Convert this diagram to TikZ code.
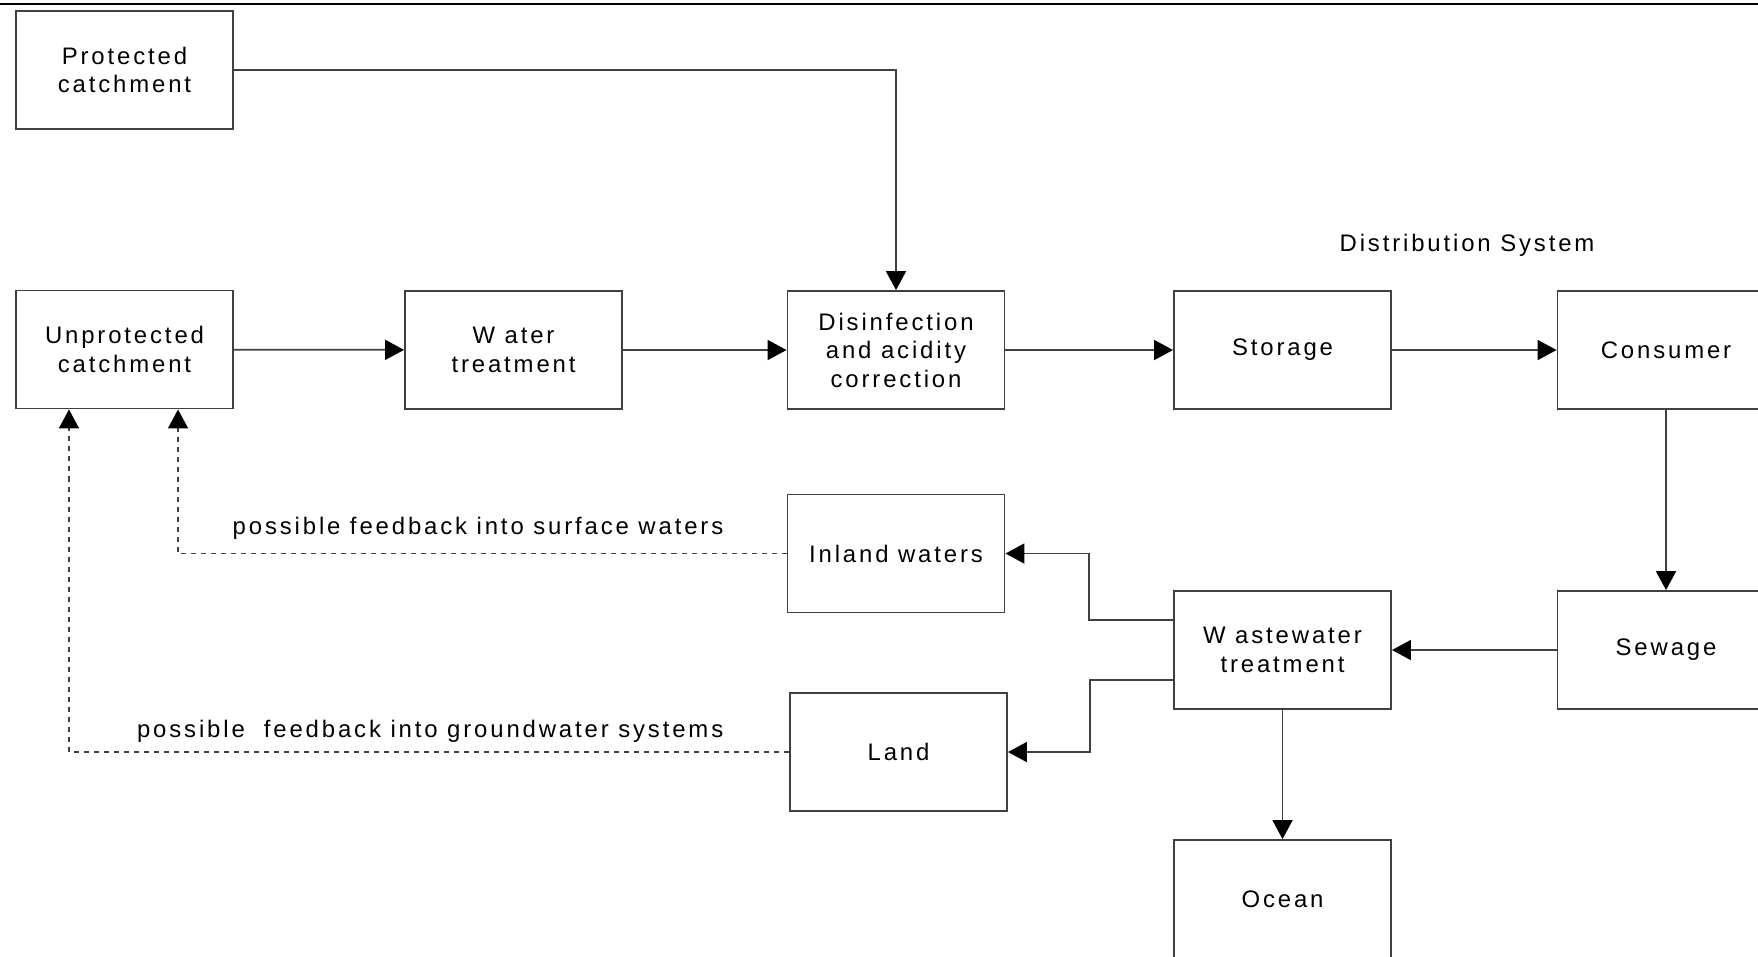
\documentclass[tikz,border=0pt]{standalone}
\usepackage{fontspec}
\setmainfont{Liberation Sans}[LetterSpace=12]
\usetikzlibrary{positioning}
\usetikzlibrary{arrows.meta}
\usetikzlibrary{calc}

\begin{document}
\begin{tikzpicture}[x=0.01cm,y=-0.01cm,
  every node/.style={font=\fontsize{6.8}{8.1}\selectfont},
  box/.style={draw=black!75,line width=0.5pt,minimum width=2.17cm,minimum height=1.18cm,align=center,inner sep=0pt},
  flow/.style={draw=black!75,line width=0.5pt,-{Triangle[length=0.19cm,width=0.2cm,black]}},
  back/.style={flow,dash pattern=on 0.05cm off 0.05cm}]

\useasboundingbox (0,0) rectangle (1758,956);

\draw[line width=0.8pt] (0,4)--(1758,4);

% upper row
\node[box] (prot) at (124.5,70) {Protected\\catchment};
\node[box] (unprot) at (124.5,349.5) {Unprotected\\catchment};
\node[box] (wtreat) at (513.5,350) {W ater\\treatment};
\node[box] (disinf) at (896,350) {Disinfection\\and acidity\\correction};
\node[box] (storage) at (1282.5,350) {Storage};
\node[box] (consumer) at (1666,350) {Consumer};

\node (distlbl) at (1467,245) {Distribution System};

% lower part
\node[box] (sewage) at (1666,650) {Sewage};
\node[box] (wwt) at (1282.5,650) {W astewater\\treatment};
\node[box] (inland) at (896,553.5) {Inland waters};
\node[box] (land) at (898.5,752) {Land};
\node[box] (ocean) at (1282.5,899) {Ocean};

\draw[flow] (prot) -| (disinf);
\draw[flow] (unprot) -- (wtreat);
\draw[flow] (wtreat) -- (disinf);
\draw[flow] (disinf) -- (storage);
\draw[flow] (storage) -- (consumer);
\draw[flow] (consumer) -- (sewage);
\draw[flow] (sewage) -- (wwt);
\draw[flow] ($(wwt.north west)!.25!(wwt.south west)$) -- ++(-84,0) |- (inland);
\draw[flow] ($(wwt.north west)!.75!(wwt.south west)$) -- ++(-83,0) |- (land);
\draw[flow] (wwt) -- (ocean);

% feedback
\draw[back] (inland) -| ([xshift=0.535cm]unprot.south);
\draw[back] (land) -| ([xshift=-0.555cm]unprot.south);

\node[anchor=east,inner sep=0pt] (surflbl) at (724,528) {possible feedback into surface waters};
\node[anchor=east,inner sep=0pt] (gwlbl) at (724,731) {possible\ \ feedback into groundwater systems};

\end{tikzpicture}
\end{document}
